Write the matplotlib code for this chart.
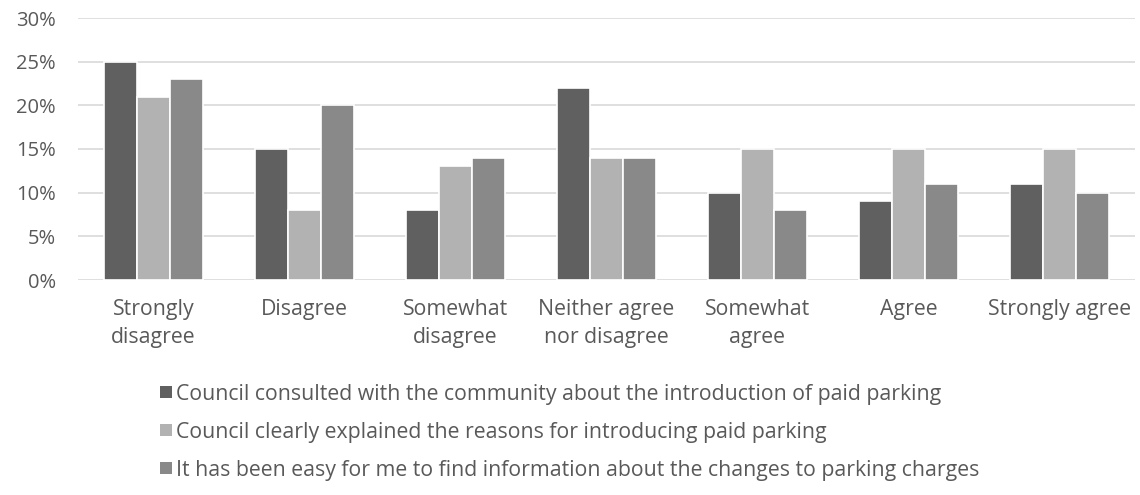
import matplotlib
matplotlib.use("Agg")
import matplotlib.pyplot as plt
from matplotlib.patches import Rectangle
import numpy as np

categories = ["Strongly\ndisagree", "Disagree", "Somewhat\ndisagree",
              "Neither agree\nnor disagree", "Somewhat\nagree", "Agree",
              "Strongly agree"]
consulted = [25, 15, 8, 22, 10, 9, 11]
explained = [21, 8, 13, 14, 15, 15, 15]
easy_info = [23, 20, 14, 14, 8, 11, 10]
series_names = [
    "Council consulted with the community about the introduction of paid parking",
    "Council clearly explained the reasons for introducing paid parking",
    "It has been easy for me to find information about the changes to parking charges",
]
series_values = [consulted, explained, easy_info]
colors = ["#606060", "#b2b2b2", "#898989"]
yticks = [0, 5, 10, 15, 20, 25, 30]

plt.rcParams["font.family"] = ["Open Sans", "DejaVu Sans"]
text_color = "#595959"
fs = 15.3
fs_y = 14.5

W, H = 1140, 495
fig = plt.figure(figsize=(W / 100, H / 100), dpi=100)
ax = fig.add_axes([78 / W, 1 - 280 / H, (1135 - 78) / W, (280 - 18) / H])

x = np.arange(len(categories))
bw = 0.22
for i, (vals, c) in enumerate(zip(series_values, colors)):
    ax.bar(x + (i - 1) * bw, vals, width=bw, color=c, edgecolor="white",
           linewidth=1.2, zorder=3)

ax.set_xlim(-0.5, len(categories) - 0.5)
ax.set_ylim(0, 30)
ax.set_yticks(yticks)
ax.set_yticklabels([f"{t}%" for t in yticks], fontsize=fs_y)
ax.set_xticks(x)
ax.set_xticklabels(categories, linespacing=1.38, fontsize=fs)
ax.grid(axis="y", color="#d9d9d9", linewidth=1.2, zorder=0)
for s in ax.spines.values():
    s.set_visible(False)
ax.tick_params(axis="both", length=0, colors=text_color)
ax.tick_params(axis="x", pad=14)
ax.tick_params(axis="y", pad=16)

# legend, stacked below the chart
legend_y = [392, 430, 468]
for name, c, yp in zip(series_names, colors, legend_y):
    fig.patches.append(Rectangle((160 / W, 1 - (yp + 6) / H), 12 / W, 12 / H,
                                 transform=fig.transFigure, facecolor=c,
                                 edgecolor="none"))
    fig.text(176 / W, 1 - yp / H, name, fontsize=fs, color=text_color,
             va="center_baseline", ha="left")

fig.savefig("out.png", dpi=100)
